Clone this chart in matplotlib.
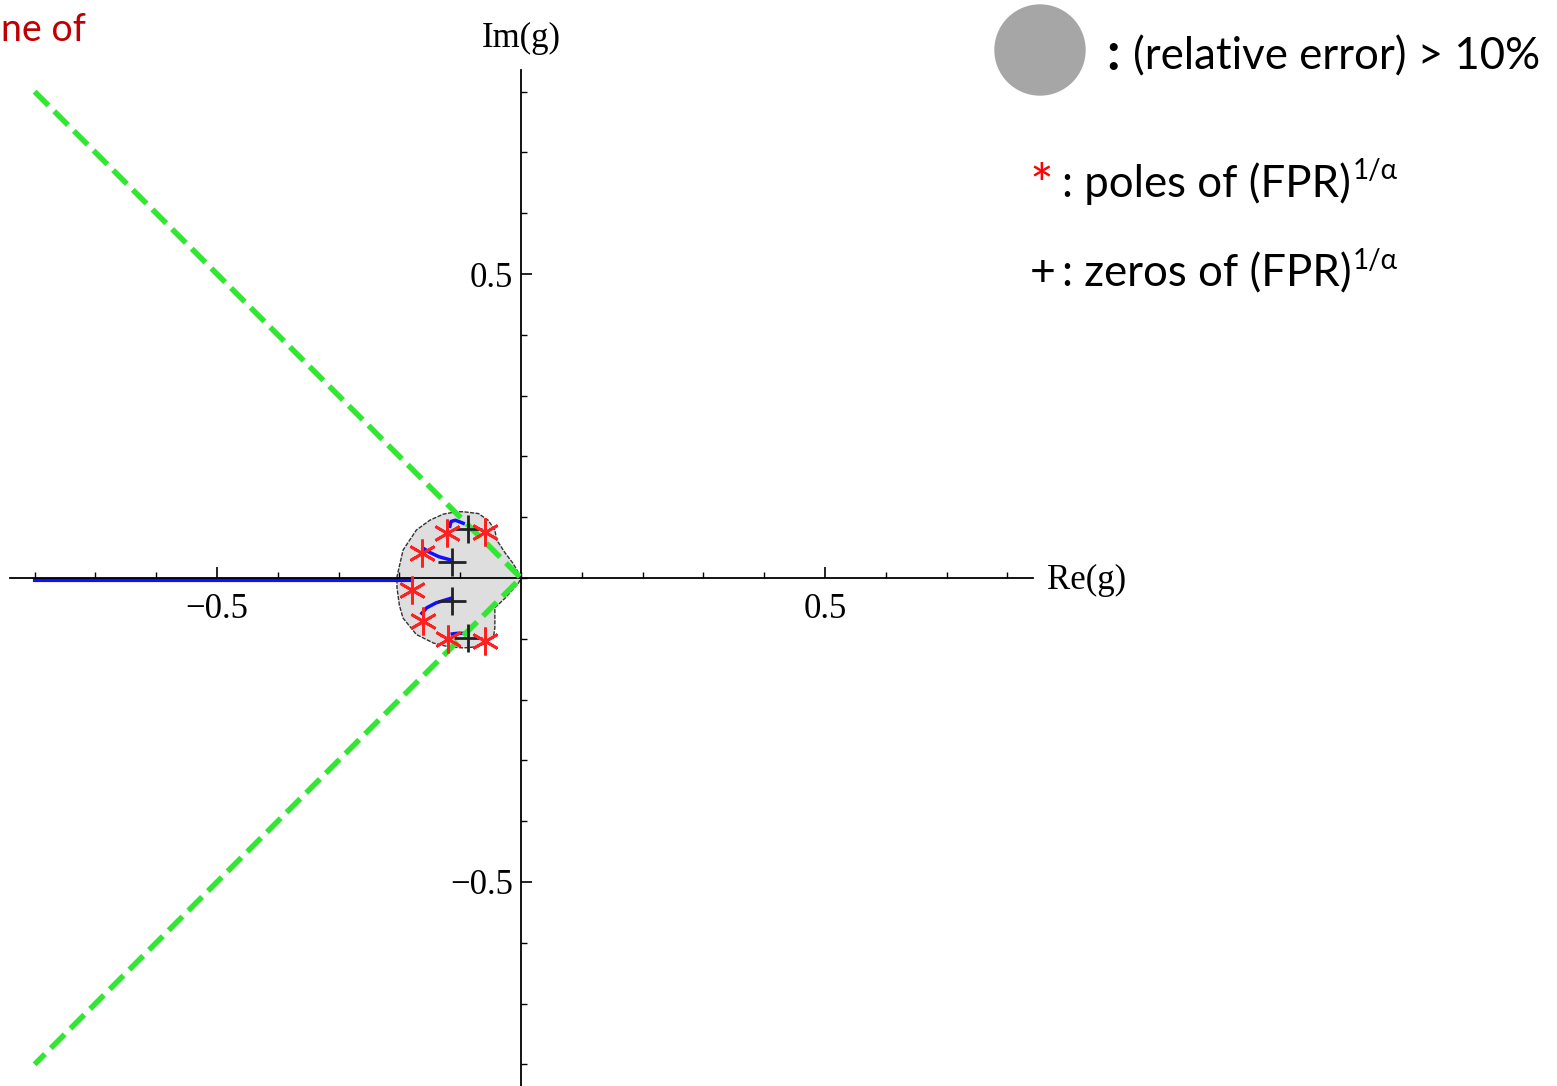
import numpy as np
import matplotlib.pyplot as plt
from matplotlib.patches import Circle, Polygon
from matplotlib.ticker import FixedLocator

W, H = 1557, 1086

# region where the relative error exceeds 10 %
err_x = [0.0, -0.004, -0.013, -0.026, -0.035, -0.040, -0.043, -0.054, -0.070, -0.095, -0.106,
         -0.128, -0.150, -0.172, -0.194, -0.204, -0.204, -0.200, -0.194, -0.172, -0.144,
         -0.120, -0.095, -0.070, -0.055, -0.045, -0.043, -0.043, -0.026, -0.004]
err_y = [0.0, 0.008, 0.024, 0.041, 0.055, 0.0625, 0.079, 0.095, 0.106, 0.109, 0.109,
         0.105, 0.095, 0.079, 0.046, 0.002, -0.016, -0.045, -0.066, -0.093, -0.107,
         -0.113, -0.115, -0.113, -0.105, -0.095, -0.082, -0.049, -0.033, -0.008]

# poles and zeros of (FPR)^(1/alpha)
pole_re = [-0.163, -0.122, -0.059, -0.180, -0.161, -0.120, -0.059]
pole_im = [0.041, 0.0735, 0.076, -0.019, -0.071, -0.101, -0.104]
zero_re = [-0.114, -0.087, -0.114, -0.087]
zero_im = [0.027, 0.080, -0.038, -0.099]

# branch cut on the negative real axis
cut_re = [-0.80, -0.18]
cut_im = [-0.004, -0.004]

# short blue trajectories
traj = [
    ([-0.161, -0.150, -0.135, -0.117], [0.049, 0.042, 0.035, 0.030]),
    ([-0.163, -0.155, -0.140, -0.114], [-0.058, -0.049, -0.041, -0.033]),
    ([-0.117, -0.115, -0.108, -0.100, -0.095], [0.085, 0.093, 0.095, 0.092, 0.090]),
    ([-0.113, -0.105, -0.095, -0.087], [-0.092, -0.091, -0.091, -0.092]),
]

# 45 degree lines
wedge_re = [-0.80, 0.0, -0.80]
wedge_im = [0.80, 0.0, -0.80]

minor = np.round(np.arange(-8, 9) * 0.1, 1)


def at(px, py):
    return px / W, 1 - py / H


fig = plt.figure(figsize=(W / 100, H / 100), dpi=100)
ax = fig.add_axes([0, 0, 1, 1])
ax.set_xlim(-521 / 608, 1036 / 608)
ax.set_ylim(-508 / 608, 578 / 608)
ax.set_aspect('equal')

ax.add_patch(Polygon(np.column_stack([err_x, err_y]), closed=True, facecolor='#dedede',
                     edgecolor='#333333', lw=1.0, ls=(0, (3, 1)), zorder=1))
ax.plot(cut_re, cut_im, color='#1010ff', lw=3, zorder=2)
for tx, ty in traj:
    ax.plot(tx, ty, color='#1010ff', lw=2.5, zorder=3)
ax.plot(wedge_re, wedge_im, color='#33e633', lw=4, ls=(0, (3.5, 1.5)), zorder=4)
ax.plot(zero_re, zero_im, '+', color='#222222', ms=20, mew=2, zorder=5)
ax.plot(pole_re, pole_im, ls='none', marker=(6, 2, 0), color='#ff2020', ms=20, mew=2, zorder=6)

# axes through the origin
for side in ['top', 'right']:
    ax.spines[side].set_visible(False)
ax.spines['left'].set_position(('data', 0))
ax.spines['bottom'].set_position(('data', 0))
ax.spines['bottom'].set_bounds(-0.84, 0.842)
ax.spines['left'].set_bounds(-0.84, 0.836)
for s in ['left', 'bottom']:
    ax.spines[s].set_linewidth(1.3)
    ax.spines[s].set_zorder(2.5)

ax.set_xticks([-0.5, 0.5])
ax.set_yticks([-0.5, 0.5])
ax.xaxis.set_minor_locator(FixedLocator(minor))
ax.yaxis.set_minor_locator(FixedLocator(minor))
ax.set_xticklabels(['\u22120.5', '0.5'])
ax.set_yticklabels(['\u22120.5', '0.5'])
ax.tick_params(which='major', direction='in', length=8, width=1.2, pad=6,
               labelsize=25, labelfontfamily='Liberation Serif')
ax.tick_params(axis='x', which='major', pad=11)
ax.tick_params(which='minor', direction='in', length=4.5, width=1.0)

serif = dict(family='Liberation Serif', fontsize=25, ha='center', va='center')
fig.text(*at(521, 38), 'Im(g)', **serif)
fig.text(*at(1087, 580), 'Re(g)', **serif)

sans = ['Lato', 'DejaVu Sans']
fig.text(*at(1, 30), 'ne of', family=sans, fontsize=27, color='#c00000', ha='left', va='center')

ax.add_patch(Circle((519 / 608, 528 / 608), 45 / 608, color='#a6a6a6', zorder=6))
fig.text(*at(1106, 55), ':', family=sans, fontsize=38, weight='bold', ha='left', va='center')
fig.text(*at(1133, 57), '(relative error) > 10%', family=sans, fontsize=31.5, ha='left', va='center')

fig.text(*at(1030, 188), '*', family=sans, fontsize=40, color='#ff0000', ha='left', va='center')
t1 = fig.text(*at(1062, 184), ': poles of (FPR)', family=sans, fontsize=31.5, ha='left', va='center')
fig.text(*at(1030, 274), '+', family=sans, fontsize=32, ha='left', va='center')
t2 = fig.text(*at(1062, 274), ': zeros of (FPR)', family=sans, fontsize=31.5, ha='left', va='center')
for t in (t1, t2):
    ax.annotate('1/\u03b1', xy=(1.0, 0.5), xycoords=t, xytext=(1, 0), textcoords='offset points',
                family=sans, fontsize=20, ha='left', va='bottom')

fig.savefig('out.png', dpi=100)
